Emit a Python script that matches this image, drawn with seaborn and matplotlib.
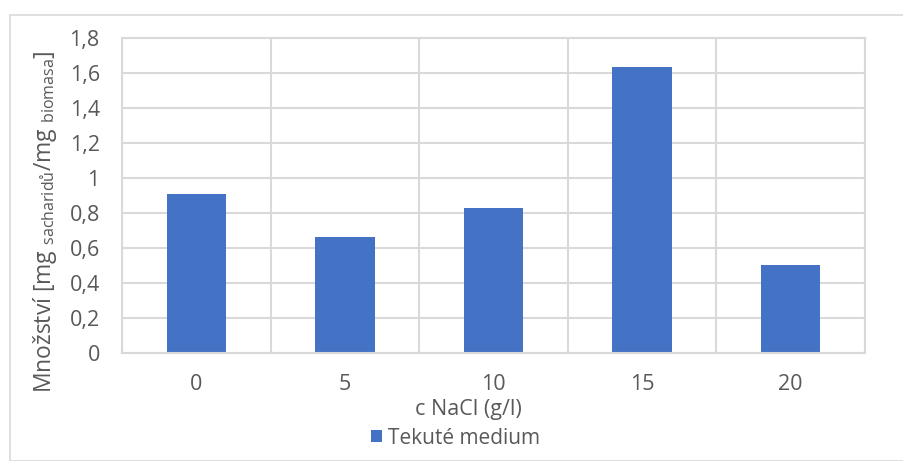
import matplotlib
matplotlib.use("Agg")
import matplotlib.pyplot as plt
import matplotlib.patches as mpatches
from matplotlib.ticker import FuncFormatter, FixedLocator
import seaborn as sns
import pandas as pd

categories = ["0", "5", "10", "15", "20"]
values = [0.909, 0.663, 0.829, 1.634, 0.503]
series_name = "Tekuté medium"
yticks = [0, 0.2, 0.4, 0.6, 0.8, 1.0, 1.2, 1.4, 1.6, 1.8]

sns.set_theme(style="white")
plt.rcParams['font.family'] = ['Open Sans', 'DejaVu Sans']
plt.rcParams['mathtext.fontset'] = 'custom'
plt.rcParams['mathtext.rm'] = 'Open Sans'
plt.rcParams['mathtext.it'] = 'Open Sans'

TXT = "#595959"
GRID = "#D9D9D9"
BAR = "#4472C4"

df = pd.DataFrame({"c": categories, "v": values, "s": series_name})

fig = plt.figure(figsize=(9.04, 4.61), dpi=100)
ax = fig.add_axes([122/904, 1-353/461, (865-122)/904, (353-38)/461])

sns.barplot(data=df, x="c", y="v", order=categories, color=BAR, width=0.4,
            ax=ax, label=series_name, saturation=1, edgecolor="none")

ax.set_xlim(-0.5, len(categories)-0.5)
ax.set_ylim(0, 1.8)
ax.set_yticks(yticks)
ax.yaxis.set_major_formatter(FuncFormatter(lambda v, p: f"{v:g}".replace('.', ',')))
ax.xaxis.set_minor_locator(FixedLocator([i-0.5 for i in range(len(categories)+1)]))
ax.grid(True, axis='y', which='major', color=GRID, lw=1.5)
ax.grid(True, axis='x', which='minor', color=GRID, lw=1.5)
ax.grid(False, axis='x', which='major')
ax.set_axisbelow(True)
for s in ax.spines.values():
    s.set_color(GRID)
    s.set_linewidth(1.5)
ax.tick_params(axis='x', which='both', length=0, pad=15, labelsize=15.5, labelcolor=TXT)
ax.tick_params(axis='y', length=0, pad=16, labelsize=15.5, labelcolor=TXT)

ax.set_xlabel("")
ax.set_ylabel(r"Množství [mg $_{\mathrm{sacharidů}}$/mg $_{\mathrm{biomasa}}$]",
              fontsize=16.5, color=TXT)
ax.yaxis.set_label_coords(-0.085, 0.416)

fig.text(468/904, 1-415/461, "c NaCl (g/l)", ha='center', va='baseline', fontsize=15.5, color=TXT)

leg = ax.legend(loc='center left', bbox_to_anchor=(371/904, 1-438/461), bbox_transform=fig.transFigure,
                frameon=False, fontsize=15, handlelength=0.55, handleheight=0.55,
                handletextpad=0.27, borderpad=0, borderaxespad=0, labelcolor=TXT)

border = mpatches.Rectangle((10/904, 0), 2, 1-15/461, transform=fig.transFigure,
                            fill=False, edgecolor=GRID, lw=1.2)
fig.patches.append(border)

fig.savefig("out.png", dpi=100)
